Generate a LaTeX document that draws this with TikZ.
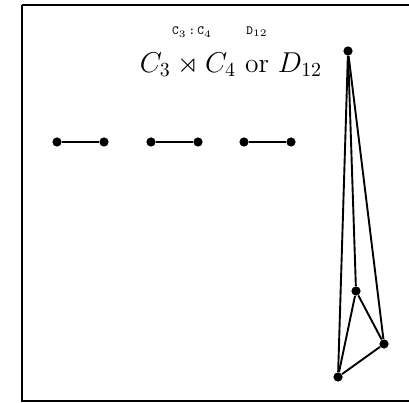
\documentclass[tikz,border=0pt]{standalone}
\usetikzlibrary{positioning}
\usepackage{amsmath, amssymb}

\begin{document}
\begin{tikzpicture}[
  x=0.5bp, y=-0.5bp,
  % Estilos de vertices
  vertex/.style={circle, fill=black, inner sep=0pt, minimum size=4.6bp},
  link/.style={draw, line width=0.95bp},
  frame/.style={draw, line width=1.4bp},
  label/.style={inner sep=0pt}
]
  \useasboundingbox (0,0) rectangle (409,403);
  \clip (0,0) rectangle (409,403);

  % ==========================================
  % FRAME
  % ==========================================
  \draw[frame] (22,5) -- (600,5);
  \draw[frame] (22,5) -- (22,401) -- (600,401);

  % ==========================================
  % TITLES
  % ==========================================
  \node[label, font=\fontsize{6.3}{7}\selectfont\ttfamily] (grupos) at (192,32) {C$_3$\,:\,C$_4$};
  \node[label, font=\fontsize{6.3}{7}\selectfont\ttfamily] (diedral) at (257,32) {D$_{12}$};
  \node[label, font=\fontsize{13.8}{16}\selectfont] (titulo) at (231,65) {$C_3 \rtimes C_4$ or $D_{12}$};

  % ==========================================
  % THREE SEGMENTS
  % ==========================================
  \node[vertex] (a1) at (57,142) {};
  \node[vertex] (b1) at (104,142) {};
  \node[vertex] (a2) at (151,142) {};
  \node[vertex] (b2) at (198,142) {};
  \node[vertex] (a3) at (244,142) {};
  \node[vertex] (b3) at (291,142) {};
  \draw[link] (a1) -- (b1);
  \draw[link] (a2) -- (b2);
  \draw[link] (a3) -- (b3);

  % ==========================================
  % TETRAHEDRON (K4)
  % ==========================================
  \node[vertex] (arriba) at (348,51) {};
  \node[vertex] (medio) at (356,291) {};
  \node[vertex] (derecha) at (384,344) {};
  \node[vertex] (abajo) at (338,377) {};
  \draw[link] (arriba) -- (medio);
  \draw[link] (arriba) -- (derecha);
  \draw[link] (arriba) -- (abajo);
  \draw[link] (medio) -- (derecha);
  \draw[link] (medio) -- (abajo);
  \draw[link] (abajo) -- (derecha);

\end{tikzpicture}
\end{document}
